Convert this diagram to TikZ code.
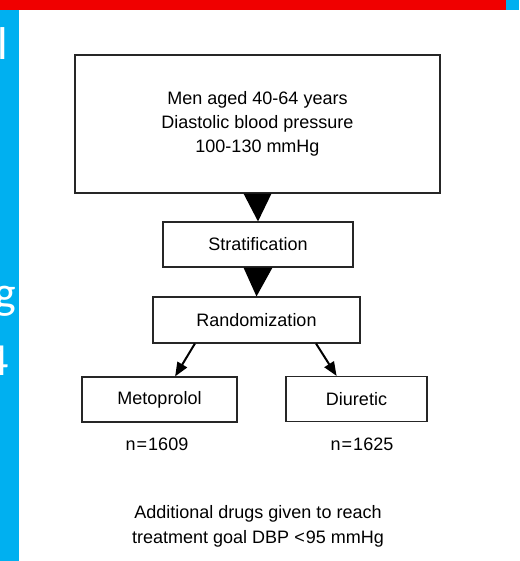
\documentclass[tikz,border=0pt]{standalone}
\usepackage{fontspec}
\setmainfont{Liberation Sans}
\newfontfamily\slidefont{Carlito}
\usetikzlibrary{arrows.meta,calc}
\definecolor{slidered}{RGB}{240,0,0}
\definecolor{slideblue}{RGB}{0,176,240}
\begin{document}
\begin{tikzpicture}[x=1pt,y=-1pt,
  box/.style={draw=black!85, line width=1.1pt, inner sep=0pt, align=center,
    font=\fontsize{18}{24}\selectfont},
  lbl/.style={inner sep=0pt, align=center, font=\fontsize{18}{25}\selectfont},
  letter/.style={inner sep=0pt, text=white, font=\slidefont\fontsize{46}{50}\selectfont},
  arr/.style={line width=2pt, -{Triangle[length=14pt,width=11pt]}}]
\useasboundingbox (0,0) rectangle (519,561);
% slide frame
\fill[slidered] (0,0) rectangle (506,10);
\fill[slideblue] (506,0) rectangle (519,10);
\fill[slideblue] (0,10) rectangle (19,561);
\begin{scope}
  \clip (0,10) rectangle (19,561);
  \node[letter, anchor=base west] (s1) at (-2.7,60) {l};
  \node[letter, anchor=base east] (s2) at (16.5,308) {g};
  \node[letter, anchor=base east] (s3) at (9.5,375) {4};
\end{scope}
% boxes
\node[box, minimum width=365pt, minimum height=138pt] (main) at (257.5,124)
  {Men aged 40-64 years\\Diastolic blood pressure\\100-130 mmHg};
\node[box, minimum width=190pt, minimum height=45pt] (strat) at (258,244.5) {Stratification};
\node[box, minimum width=207pt, minimum height=46pt] (rand) at (256.5,320) {Randomization};
\node[box, minimum width=155pt, minimum height=45pt] (meto) at (159.5,399.5) {Metoprolol};
\node[box, minimum width=141pt, minimum height=45pt] (diur) at (356.5,399) {Diuretic};
% labels
\node[lbl, anchor=base] (n1) at (157,450) {n\kern1pt=\kern1pt1609};
\node[lbl, anchor=base] (n2) at (362,450) {n\kern1pt=\kern1pt1625};
\node[lbl, anchor=base] (note) at (258,543)
  {Additional drugs given to reach\\treatment goal DBP <\kern1pt95 mmHg};
% connectors
\fill ($(main.south)+(-14,0)$) -- ($(main.south)+(14,0)$) -- (strat.north) -- cycle;
\fill ($(strat.south)+(-14.5,0)$) -- ($(strat.south)+(14.5,0)$) -- (rand.north) -- cycle;
\draw[arr] ($(rand.south west)!0.204!(rand.south east)$) -- ($(meto.north west)!0.6!(meto.north east)$);
\draw[arr] ($(rand.south west)!0.786!(rand.south east)$) -- ($(diur.north west)!0.36!(diur.north east)$);
\end{tikzpicture}
\end{document}
